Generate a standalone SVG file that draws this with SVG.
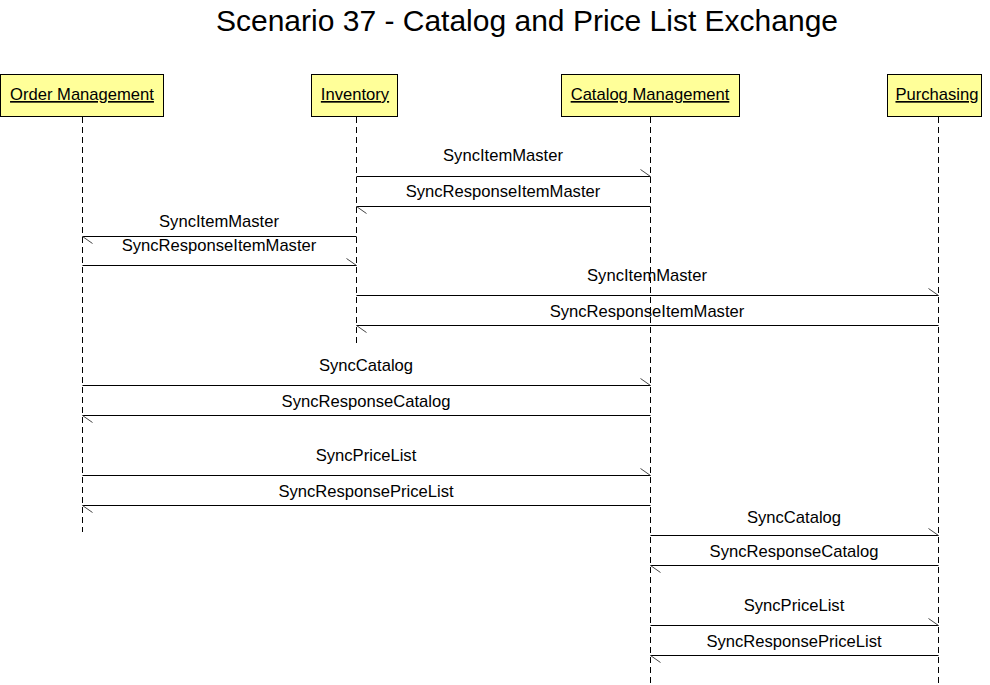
<svg xmlns="http://www.w3.org/2000/svg" width="990" height="685" viewBox="0 0 990 685">
<style>
text{font-family:"Liberation Sans",Arial,sans-serif;fill:#000}
.title{font-size:30px;text-anchor:middle}
.box{fill:#FFFF99;stroke:#000;stroke-width:1}
.name{font-size:16.6px;text-anchor:middle;text-decoration:underline}
.life{stroke:#000;stroke-width:1;stroke-dasharray:6,4;fill:none}
.msg{stroke:#000;stroke-width:1;fill:none;marker-end:url(#half)}
.lbl{font-size:16.6px;text-anchor:middle}
</style>
<defs>
<marker id="half" markerUnits="userSpaceOnUse" markerWidth="14" markerHeight="14" refX="12" refY="10" orient="auto" overflow="visible">
<path d="M2,3 L12,10" stroke="#444" stroke-width="1" fill="none"/>
</marker>
</defs>
<rect width="990" height="685" fill="#fff"/>
<text class="title" x="527" y="31">Scenario 37 - Catalog and Price List Exchange</text>
<g id="order-management">
<rect class="box" x="0.5" y="74.5" width="163" height="42"/>
<text class="name" x="82" y="100">Order Management</text>
<line class="life" x1="82.5" y1="117" x2="82.5" y2="532"/>
</g>
<g id="inventory">
<rect class="box" x="311.5" y="74.5" width="86" height="42"/>
<text class="name" x="355" y="100">Inventory</text>
<line class="life" x1="356.5" y1="117" x2="356.5" y2="346"/>
</g>
<g id="catalog-management">
<rect class="box" x="561.5" y="74.5" width="178" height="42"/>
<text class="name" x="650" y="100">Catalog Management</text>
<line class="life" x1="650.5" y1="117" x2="650.5" y2="685"/>
</g>
<g id="purchasing">
<rect class="box" x="887.5" y="74.5" width="94" height="42"/>
<text class="name" x="937" y="100">Purchasing</text>
<line class="life" x1="938.5" y1="117" x2="938.5" y2="685"/>
</g>
<g id="connectors">
<line class="msg" x1="356.5" y1="176.5" x2="650.5" y2="176.5"/>
<text class="lbl" x="503" y="161">SyncItemMaster</text>
<line class="msg" x1="650.5" y1="206.5" x2="356.5" y2="206.5"/>
<text class="lbl" x="503" y="197">SyncResponseItemMaster</text>
<line class="msg" x1="356.5" y1="236.5" x2="82.5" y2="236.5"/>
<text class="lbl" x="219" y="227">SyncItemMaster</text>
<line class="msg" x1="82.5" y1="265.5" x2="356.5" y2="265.5"/>
<text class="lbl" x="219" y="251">SyncResponseItemMaster</text>
<line class="msg" x1="356.5" y1="295.5" x2="938.5" y2="295.5"/>
<text class="lbl" x="647" y="281">SyncItemMaster</text>
<line class="msg" x1="938.5" y1="325.5" x2="356.5" y2="325.5"/>
<text class="lbl" x="647" y="317">SyncResponseItemMaster</text>
<line class="msg" x1="82.5" y1="385.5" x2="650.5" y2="385.5"/>
<text class="lbl" x="366" y="371">SyncCatalog</text>
<line class="msg" x1="650.5" y1="415.5" x2="82.5" y2="415.5"/>
<text class="lbl" x="366" y="407">SyncResponseCatalog</text>
<line class="msg" x1="82.5" y1="475.5" x2="650.5" y2="475.5"/>
<text class="lbl" x="366" y="461">SyncPriceList</text>
<line class="msg" x1="650.5" y1="505.5" x2="82.5" y2="505.5"/>
<text class="lbl" x="366" y="497">SyncResponsePriceList</text>
<line class="msg" x1="650.5" y1="535.5" x2="938.5" y2="535.5"/>
<text class="lbl" x="794" y="523">SyncCatalog</text>
<line class="msg" x1="938.5" y1="565.5" x2="650.5" y2="565.5"/>
<text class="lbl" x="794" y="557">SyncResponseCatalog</text>
<line class="msg" x1="650.5" y1="625.5" x2="938.5" y2="625.5"/>
<text class="lbl" x="794" y="611">SyncPriceList</text>
<line class="msg" x1="938.5" y1="655.5" x2="650.5" y2="655.5"/>
<text class="lbl" x="794" y="647">SyncResponsePriceList</text>
</g>
</svg>
